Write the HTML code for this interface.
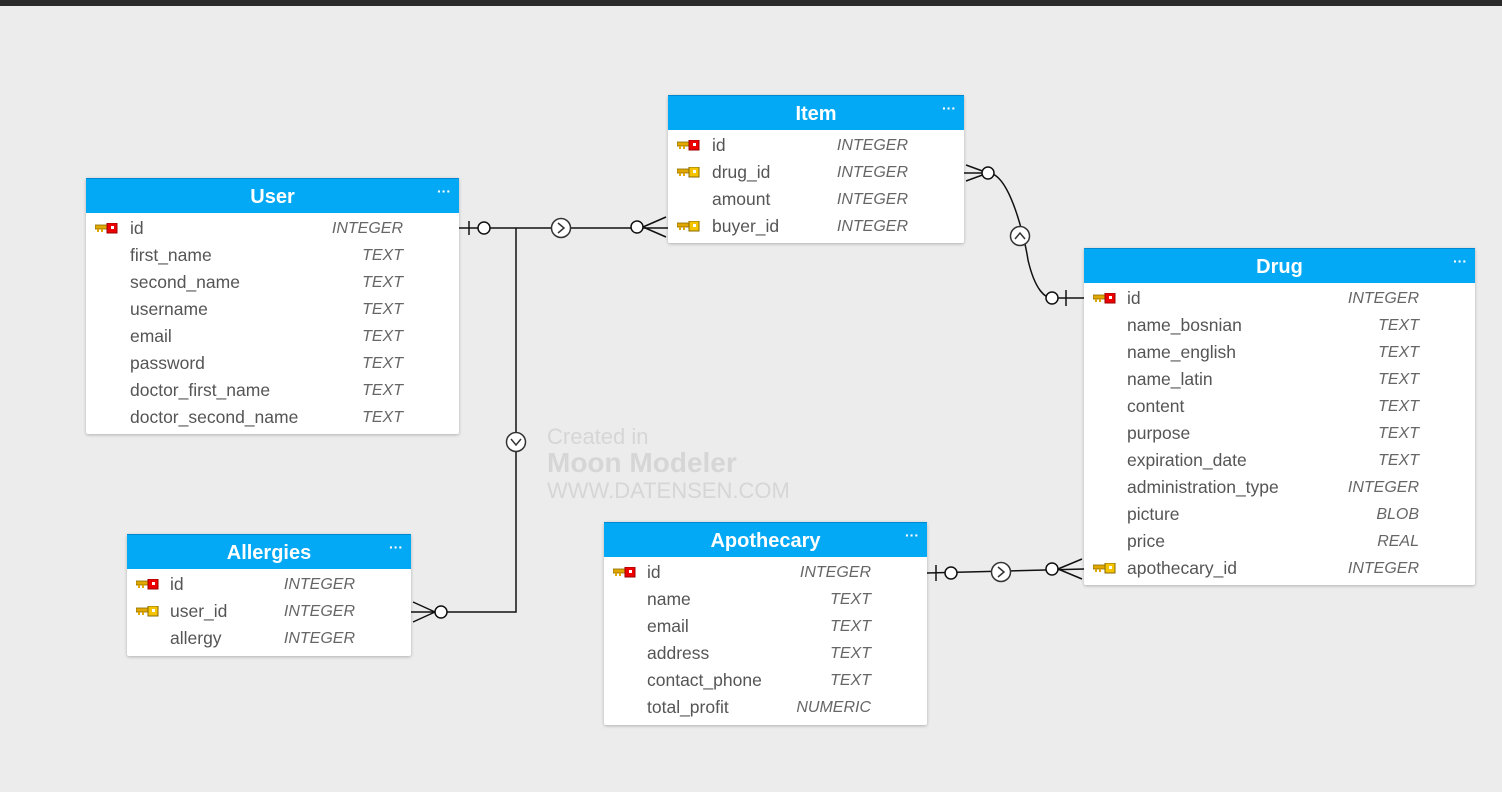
<!DOCTYPE html>
<html><head><meta charset="utf-8"><style>
body{margin:0;width:1502px;height:792px;background:#ececec;position:relative;overflow:hidden;font-family:"Liberation Sans",sans-serif}
.bar{position:absolute;left:0;top:0;width:1502px;height:6px;background:#2b2b2b}
.t{position:absolute;background:#fff;box-shadow:0 1px 3px rgba(0,0,0,.25);border-radius:2px}
.h{height:34px;background:#03a9f4;color:#fff;font-weight:bold;font-size:20px;text-align:center;line-height:36px;position:relative;border-top:1px solid #0288d1}
.h i{position:absolute;right:8px;top:0px;font-style:normal;font-size:14px;line-height:24px;letter-spacing:0}
.b{padding-top:2px}
.r{height:27px;line-height:27px;position:relative;font-size:17.5px;color:#555}
.r .n{position:absolute}
.r .ty{position:absolute;font-style:italic;font-size:16px;color:#666;text-align:right}
.r svg{position:absolute;top:8px}
.wm{position:absolute;left:547px;top:426px;color:#d6d6d6;line-height:1}
</style></head><body>
<div class="bar"></div>
<svg width="1502" height="792" style="position:absolute;left:0;top:0" fill="none" stroke="#111" stroke-width="1.5">
<path d="M459 228 H668"/>
<path d="M469 221 V235"/>
<circle cx="484" cy="228" r="6" fill="#fff"/>
<circle cx="561" cy="228" r="9.5" fill="#fff" stroke="#333"/>
<path d="M558 223 L564 228 L558 233" stroke="#333"/>
<circle cx="637" cy="227" r="6" fill="#fff"/>
<path d="M643 227 L666 217 M643 227 L666 237"/>
<path d="M516 228 V612 H411"/>
<circle cx="516" cy="442" r="9.5" fill="#fff" stroke="#333"/>
<path d="M511 439 L516 445 L521 439" stroke="#333"/>
<circle cx="441" cy="612" r="6" fill="#fff"/>
<path d="M435 612 L413 602 M435 612 L413 622"/>
<path d="M964 173 H988 C1010 173 1025 240 1028 260 C1035 290 1045 298 1052 298 H1084"/>
<path d="M966 165 L988 173 L966 181"/>
<circle cx="988" cy="173" r="6" fill="#fff"/>
<circle cx="1020" cy="236" r="9.5" fill="#fff" stroke="#333"/>
<path d="M1015 239 L1020 233 L1025 239" stroke="#333"/>
<circle cx="1052" cy="298" r="6" fill="#fff"/>
<path d="M1066 290 V306"/>
<path d="M927 573 L1084 569"/>
<path d="M936 565 V581"/>
<circle cx="951" cy="573" r="6" fill="#fff"/>
<circle cx="1001" cy="572" r="9.5" fill="#fff" stroke="#333"/>
<path d="M998 567 L1004 572 L998 577" stroke="#333"/>
<circle cx="1052" cy="569" r="6" fill="#fff"/>
<path d="M1058 569 L1082 559 M1058 569 L1082 579"/>
</svg>

<div class="wm"><div style="font-size:22px">Created in</div><div style="font-size:28px;font-weight:bold;margin-top:1px">Moon Modeler</div><div style="font-size:22px;margin-top:3px">WWW.DATENSEN.COM</div></div>

<svg width="0" height="0" style="position:absolute"><defs>
<g id="pk"><rect x="0" y="2" width="13" height="4" fill="#e0a800" stroke="#8a6a00" stroke-width=".8"/><rect x="2" y="6" width="2" height="3" fill="#e0a800"/><rect x="6" y="6" width="2" height="3" fill="#e0a800"/><rect x="12" y="0" width="10" height="10" fill="#e00" stroke="#900"/><rect x="16" y="3" width="3" height="3" fill="#fff"/></g>
<g id="fk"><rect x="0" y="2" width="13" height="4" fill="#e0a800" stroke="#8a6a00" stroke-width=".8"/><rect x="2" y="6" width="2" height="3" fill="#e0a800"/><rect x="6" y="6" width="2" height="3" fill="#e0a800"/><rect x="12" y="0" width="10" height="10" fill="#f4c400" stroke="#8a6a00"/><rect x="16" y="3" width="3" height="3" fill="#fff"/></g>
</defs></svg>

<div class="t" style="left:86px;top:178px;width:373px;height:256px">
<div class="h">User<i>···</i></div><div class="b">
<div class="r"><svg width="24" height="12" style="left:9px"><use href="#pk"/></svg><span class="n" style="left:44px">id</span><span class="ty" style="right:56px">INTEGER</span></div>
<div class="r"><span class="n" style="left:44px">first_name</span><span class="ty" style="right:56px">TEXT</span></div>
<div class="r"><span class="n" style="left:44px">second_name</span><span class="ty" style="right:56px">TEXT</span></div>
<div class="r"><span class="n" style="left:44px">username</span><span class="ty" style="right:56px">TEXT</span></div>
<div class="r"><span class="n" style="left:44px">email</span><span class="ty" style="right:56px">TEXT</span></div>
<div class="r"><span class="n" style="left:44px">password</span><span class="ty" style="right:56px">TEXT</span></div>
<div class="r"><span class="n" style="left:44px">doctor_first_name</span><span class="ty" style="right:56px">TEXT</span></div>
<div class="r"><span class="n" style="left:44px">doctor_second_name</span><span class="ty" style="right:56px">TEXT</span></div>
</div></div>

<div class="t" style="left:668px;top:95px;width:296px;height:148px">
<div class="h">Item<i>···</i></div><div class="b">
<div class="r"><svg width="24" height="12" style="left:9px"><use href="#pk"/></svg><span class="n" style="left:44px">id</span><span class="ty" style="right:56px">INTEGER</span></div>
<div class="r"><svg width="24" height="12" style="left:9px"><use href="#fk"/></svg><span class="n" style="left:44px">drug_id</span><span class="ty" style="right:56px">INTEGER</span></div>
<div class="r"><span class="n" style="left:44px">amount</span><span class="ty" style="right:56px">INTEGER</span></div>
<div class="r"><svg width="24" height="12" style="left:9px"><use href="#fk"/></svg><span class="n" style="left:44px">buyer_id</span><span class="ty" style="right:56px">INTEGER</span></div>
</div></div>

<div class="t" style="left:1084px;top:248px;width:391px;height:337px">
<div class="h">Drug<i>···</i></div><div class="b">
<div class="r"><svg width="24" height="12" style="left:9px"><use href="#pk"/></svg><span class="n" style="left:43px">id</span><span class="ty" style="right:56px">INTEGER</span></div>
<div class="r"><span class="n" style="left:43px">name_bosnian</span><span class="ty" style="right:56px">TEXT</span></div>
<div class="r"><span class="n" style="left:43px">name_english</span><span class="ty" style="right:56px">TEXT</span></div>
<div class="r"><span class="n" style="left:43px">name_latin</span><span class="ty" style="right:56px">TEXT</span></div>
<div class="r"><span class="n" style="left:43px">content</span><span class="ty" style="right:56px">TEXT</span></div>
<div class="r"><span class="n" style="left:43px">purpose</span><span class="ty" style="right:56px">TEXT</span></div>
<div class="r"><span class="n" style="left:43px">expiration_date</span><span class="ty" style="right:56px">TEXT</span></div>
<div class="r"><span class="n" style="left:43px">administration_type</span><span class="ty" style="right:56px">INTEGER</span></div>
<div class="r"><span class="n" style="left:43px">picture</span><span class="ty" style="right:56px">BLOB</span></div>
<div class="r"><span class="n" style="left:43px">price</span><span class="ty" style="right:56px">REAL</span></div>
<div class="r"><svg width="24" height="12" style="left:9px"><use href="#fk"/></svg><span class="n" style="left:43px">apothecary_id</span><span class="ty" style="right:56px">INTEGER</span></div>
</div></div>

<div class="t" style="left:127px;top:534px;width:284px;height:122px">
<div class="h">Allergies<i>···</i></div><div class="b">
<div class="r"><svg width="24" height="12" style="left:9px"><use href="#pk"/></svg><span class="n" style="left:43px">id</span><span class="ty" style="right:56px">INTEGER</span></div>
<div class="r"><svg width="24" height="12" style="left:9px"><use href="#fk"/></svg><span class="n" style="left:43px">user_id</span><span class="ty" style="right:56px">INTEGER</span></div>
<div class="r"><span class="n" style="left:43px">allergy</span><span class="ty" style="right:56px">INTEGER</span></div>
</div></div>

<div class="t" style="left:604px;top:522px;width:323px;height:203px">
<div class="h">Apothecary<i>···</i></div><div class="b">
<div class="r"><svg width="24" height="12" style="left:9px"><use href="#pk"/></svg><span class="n" style="left:43px">id</span><span class="ty" style="right:56px">INTEGER</span></div>
<div class="r"><span class="n" style="left:43px">name</span><span class="ty" style="right:56px">TEXT</span></div>
<div class="r"><span class="n" style="left:43px">email</span><span class="ty" style="right:56px">TEXT</span></div>
<div class="r"><span class="n" style="left:43px">address</span><span class="ty" style="right:56px">TEXT</span></div>
<div class="r"><span class="n" style="left:43px">contact_phone</span><span class="ty" style="right:56px">TEXT</span></div>
<div class="r"><span class="n" style="left:43px">total_profit</span><span class="ty" style="right:56px">NUMERIC</span></div>
</div></div>
</body></html>
